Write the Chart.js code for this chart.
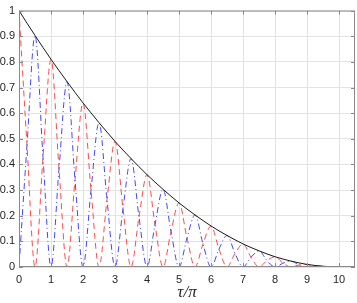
<!DOCTYPE html>
<html>
<head>
<meta charset="utf-8">
<script src="https://cdn.jsdelivr.net/npm/chart.js@4"></script>
<style>
  html, body { margin: 0; padding: 0; background: #fff; }
  #wrap { width: 357px; height: 303px; }
</style>
</head>
<body>
<div id="wrap"><canvas id="chart"></canvas></div>
<script>
// tau / pi, sampled every quarter
const tau = [
  0, 0.25, 0.5, 0.75, 1, 1.25, 1.5, 1.75, 2, 2.25, 2.5, 2.75, 3, 3.25, 3.5, 3.75,
  4, 4.25, 4.5, 4.75, 5, 5.25, 5.5, 5.75, 6, 6.25, 6.5, 6.75, 7, 7.25, 7.5, 7.75,
  8, 8.25, 8.5, 8.75, 9, 9.25, 9.5, 9.75, 10,
];

// black solid envelope
const envelope = [
  1, 0.951, 0.903, 0.856, 0.81, 0.766, 0.723, 0.681, 0.64, 0.601, 0.563, 0.526,
  0.49, 0.456, 0.423, 0.391, 0.36, 0.331, 0.303, 0.276, 0.25, 0.226, 0.203, 0.181,
  0.16, 0.141, 0.123, 0.106, 0.09, 0.076, 0.063, 0.051, 0.04, 0.031, 0.023, 0.016,
  0.01, 0.006, 0.003, 0.001, 0,
];

// red dashed (peaks on whole numbers)
const redDashed = [
  1, 0.475, 0, 0.428, 0.81, 0.383, 0, 0.34, 0.64, 0.3, 0, 0.263,
  0.49, 0.228, 0, 0.195, 0.36, 0.165, 0, 0.138, 0.25, 0.113, 0, 0.09,
  0.16, 0.07, 0, 0.053, 0.09, 0.038, 0, 0.025, 0.04, 0.015, 0, 0.008,
  0.01, 0.003, 0, 0, 0,
];

// blue dash-dot (peaks on half numbers)
const blueDashDot = [
  0, 0.475, 0.903, 0.428, 0, 0.383, 0.723, 0.34, 0, 0.3, 0.563, 0.263,
  0, 0.228, 0.423, 0.195, 0, 0.165, 0.303, 0.138, 0, 0.113, 0.203, 0.09,
  0, 0.07, 0.123, 0.053, 0, 0.038, 0.063, 0.025, 0, 0.015, 0.023, 0.008,
  0, 0.003, 0.003, 0, 0,
];

const yTickLabels = ["0", "0.1", "0.2", "0.3", "0.4", "0.5", "0.6", "0.7", "0.8", "0.9", "1"];
const xTickLabels = ["0", "1", "2", "3", "4", "5", "6", "7", "8", "9", "10"];

const axisColor = "#262626";
const boxColor = "#8a8a8a";
const gridColor = "#e3e3e3";
const tickFont = { family: "Liberation Sans, Arial, sans-serif", size: 11 };

const pts = (ys) => tau.map((t, i) => ({ x: t, y: ys[i] }));

// MATLAB-like box with inward ticks on all four sides
const boxPlugin = {
  id: "box",
  afterDatasetsDraw(chart) {
    const { ctx, chartArea: a, scales } = chart;
    ctx.save();
    ctx.strokeStyle = boxColor;
    ctx.lineWidth = 1;
    ctx.strokeRect(a.left + 0.5, a.top + 0.5, a.right - a.left - 1, a.bottom - a.top - 1);
    ctx.beginPath();
    scales.x.ticks.forEach((t) => {
      const px = Math.round(scales.x.getPixelForValue(t.value)) + 0.5;
      ctx.moveTo(px, a.bottom); ctx.lineTo(px, a.bottom - 4);
      ctx.moveTo(px, a.top); ctx.lineTo(px, a.top + 4);
    });
    scales.y.ticks.forEach((t) => {
      const py = Math.round(scales.y.getPixelForValue(t.value)) + 0.5;
      ctx.moveTo(a.left, py); ctx.lineTo(a.left + 4, py);
      ctx.moveTo(a.right, py); ctx.lineTo(a.right - 4, py);
    });
    ctx.stroke();
    ctx.restore();
  },
};

new Chart(document.getElementById("chart"), {
  type: "line",
  data: {
    datasets: [
      {
        data: pts(envelope),
        borderColor: "#1a1a1a",
        borderWidth: 1,
        pointRadius: 0,
        cubicInterpolationMode: "monotone",
        order: 0,
      },
      {
        data: pts(blueDashDot),
        borderColor: "#4646ff",
        borderWidth: 1,
        borderDash: [6, 3, 1, 3],
        pointRadius: 0,
        cubicInterpolationMode: "monotone",
        order: 1,
      },
      {
        data: pts(redDashed),
        borderColor: "#ff4a4a",
        borderWidth: 1,
        borderDash: [6, 4],
        pointRadius: 0,
        cubicInterpolationMode: "monotone",
        order: 2,
      },
    ],
  },
  options: {
    responsive: true,
    maintainAspectRatio: false,
    animation: false,
    layout: { padding: { top: 4, right: 2, left: 0, bottom: 0 } },
    plugins: { legend: { display: false }, tooltip: { enabled: false } },
    scales: {
      x: {
        type: "linear",
        min: 0,
        max: 10.5,
        grid: { color: gridColor, drawTicks: false },
        border: { display: false },
        ticks: {
          stepSize: 1,
          includeBounds: false,
          padding: 6,
          maxRotation: 0,
          color: axisColor,
          font: tickFont,
          callback: (v) => xTickLabels[v] ?? "",
        },
        title: {
          display: true,
          text: "τ/π",
          color: axisColor,
          padding: { top: 5, bottom: 0 },
          font: { family: "Liberation Serif, DejaVu Serif, serif", size: 17, style: "italic" },
        },
        afterFit: (s) => { s.height = 36; },
      },
      y: {
        min: 0,
        max: 1,
        grid: { color: gridColor, drawTicks: false },
        border: { display: false },
        ticks: {
          stepSize: 0.1,
          padding: 4,
          color: axisColor,
          font: tickFont,
          callback: (v) => yTickLabels[Math.round(v * 10)] ?? "",
        },
        afterFit: (s) => { s.width = 19; },
      },
    },
  },
  plugins: [boxPlugin],
});
</script>
</body>
</html>
